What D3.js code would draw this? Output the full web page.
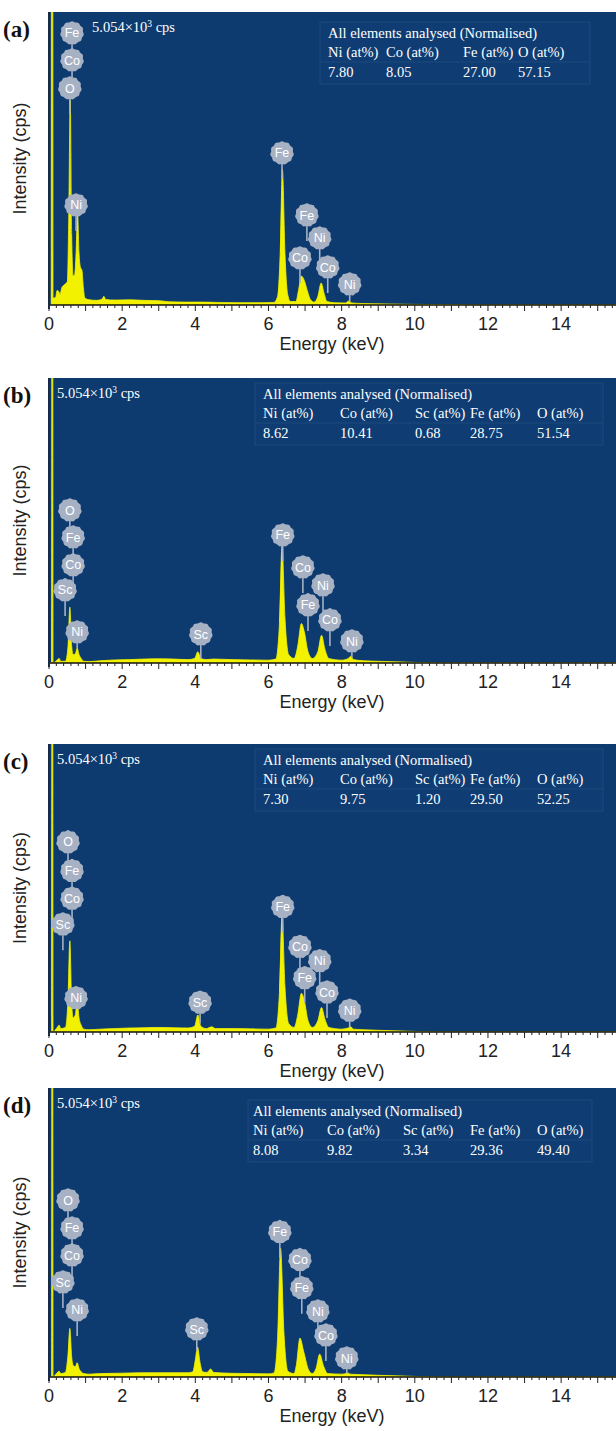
<!DOCTYPE html>
<html>
<head>
<meta charset="utf-8">
<script src="https://cdn.jsdelivr.net/npm/d3@7"></script>
<style>
  body { margin: 0; background: #fff; }
  svg { display: block; }
</style>
</head>
<body>
<svg id="chart" width="616" height="1431"></svg>
<script>
// ---------------- data ----------------
const energyTicks = [0, 2, 4, 6, 8, 10, 12, 14];
const fullScaleCps = 5054;
const panelNames = ["(a)", "(b)", "(c)", "(d)"];
const scaleText = "5.054×10";
const tableTitle = "All elements analysed (Normalised)";

const columnsA = ["Ni (at%)", "Co (at%)", "Fe (at%)", "O (at%)"];
const percentA = ["7.80", "8.05", "27.00", "57.15"];
const columnsB = ["Ni (at%)", "Co (at%)", "Sc (at%)", "Fe (at%)", "O (at%)"];
const percentB = ["8.62", "10.41", "0.68", "28.75", "51.54"];
const columnsC = ["Ni (at%)", "Co (at%)", "Sc (at%)", "Fe (at%)", "O (at%)"];
const percentC = ["7.30", "9.75", "1.20", "29.50", "52.25"];
const columnsD = ["Ni (at%)", "Co (at%)", "Sc (at%)", "Fe (at%)", "O (at%)"];
const percentD = ["8.08", "9.82", "3.34", "29.36", "49.40"];

// spectra: [energy keV, counts cps]
const spectrumA = [
  [0, 0], [0.06, 0], [0.07, 9000], [0.1, 9000], [0.11, 120], [0.18, 130], [0.22, 250], [0.27, 230],
  [0.3, 180], [0.35, 300], [0.42, 350], [0.5, 400], [0.54, 1500], [0.58, 3540], [0.62, 1200],
  [0.66, 500], [0.7, 520], [0.74, 900], [0.78, 1600], [0.82, 900], [0.86, 650], [0.9, 600],
  [0.94, 300], [0.98, 120], [1.1, 90], [1.3, 80], [1.45, 100], [1.5, 150], [1.55, 95], [1.8, 85],
  [2.2, 90], [2.6, 80], [3.0, 75], [3.3, 55], [3.7, 50], [4.2, 50], [4.6, 45], [5.2, 40],
  [5.8, 40], [6.15, 45], [6.25, 150], [6.32, 900], [6.38, 2340], [6.45, 900], [6.52, 200],
  [6.6, 60], [6.75, 60], [6.82, 250], [6.9, 500], [6.98, 420], [7.06, 250], [7.15, 90],
  [7.25, 50], [7.35, 150], [7.44, 380], [7.52, 200], [7.6, 60], [7.8, 40], [8.1, 35],
  [8.2, 70], [8.28, 35], [8.6, 25], [9.0, 20], [9.5, 15], [10, 10], [11, 6], [12, 0], [15.6, 0]
];
const spectrumB = [
  [0, 0], [0.07, 0], [0.08, 9000], [0.1, 9000], [0.11, 0], [0.2, 40], [0.28, 80], [0.32, 30],
  [0.45, 30], [0.52, 300], [0.57, 990], [0.62, 300], [0.66, 150], [0.72, 160], [0.77, 265],
  [0.82, 150], [0.88, 80], [0.95, 30], [1.1, 25], [1.4, 40], [1.8, 55], [2.2, 60], [2.6, 70],
  [3.0, 75], [3.4, 70], [3.8, 60], [3.98, 80], [4.07, 200], [4.15, 80], [4.3, 60], [4.5, 70],
  [5, 60], [5.5, 55], [6.0, 50], [6.2, 70], [6.3, 700], [6.37, 2080], [6.45, 800], [6.55, 150],
  [6.7, 80], [6.8, 300], [6.9, 700], [6.98, 550], [7.08, 200], [7.2, 80], [7.35, 200],
  [7.45, 490], [7.54, 250], [7.65, 80], [8.0, 50], [8.18, 80], [8.25, 120], [8.32, 60],
  [8.6, 40], [9.0, 30], [9.5, 20], [10, 10], [11, 0], [15.6, 0]
];
const spectrumC = [
  [0, 0], [0.07, 0], [0.08, 9000], [0.1, 9000], [0.11, 0], [0.2, 60], [0.28, 120], [0.32, 60],
  [0.45, 80], [0.52, 600], [0.57, 1600], [0.62, 500], [0.66, 250], [0.72, 300], [0.77, 560],
  [0.82, 250], [0.88, 120], [0.95, 50], [1.1, 40], [1.4, 50], [1.8, 60], [2.2, 70], [2.6, 75],
  [3.0, 80], [3.4, 75], [3.8, 70], [3.98, 100], [4.07, 300], [4.15, 100], [4.3, 60], [4.45, 90],
  [4.55, 60], [5, 60], [5.5, 55], [6.0, 50], [6.2, 70], [6.3, 700], [6.37, 2030], [6.45, 800],
  [6.55, 150], [6.7, 80], [6.8, 300], [6.9, 680], [6.98, 550], [7.08, 200], [7.2, 80],
  [7.35, 200], [7.45, 430], [7.54, 230], [7.65, 80], [8.0, 50], [8.18, 70], [8.25, 90],
  [8.32, 50], [8.6, 40], [9.0, 30], [9.5, 20], [10, 10], [11, 0], [15.6, 0]
];
const spectrumD = [
  [0, 0], [0.07, 0], [0.08, 9000], [0.1, 9000], [0.11, 0], [0.2, 60], [0.28, 100], [0.32, 60],
  [0.45, 80], [0.52, 400], [0.57, 850], [0.62, 350], [0.66, 200], [0.72, 180], [0.77, 250],
  [0.82, 150], [0.88, 90], [0.95, 60], [1.1, 50], [1.4, 60], [1.8, 65], [2.2, 70], [2.6, 75],
  [3.0, 75], [3.4, 75], [3.8, 75], [3.93, 90], [4.0, 300], [4.06, 525], [4.13, 250], [4.2, 90],
  [4.32, 80], [4.42, 140], [4.5, 80], [5, 65], [5.5, 60], [6.0, 55], [6.15, 70], [6.25, 700],
  [6.33, 2250], [6.42, 800], [6.53, 100], [6.7, 60], [6.76, 200], [6.86, 680], [6.96, 450],
  [7.1, 120], [7.2, 60], [7.3, 150], [7.4, 400], [7.5, 200], [7.62, 60], [8.0, 50], [8.12, 60],
  [8.17, 70], [8.24, 50], [8.6, 40], [9.0, 30], [9.5, 20], [10, 10], [11, 0], [15.6, 0]
];

// element markers: [symbol, energy keV, balloon height cps]
const markersA = [
  ["Fe", 0.63, 4692], ["Co", 0.63, 4226], ["O", 0.57, 3743], ["Ni", 0.74, 1725],
  ["Fe", 6.37, 2622], ["Fe", 7.05, 1552], ["Ni", 7.40, 1156], ["Co", 6.86, 811],
  ["Co", 7.62, 655], ["Ni", 8.22, 362]
];
const markersB = [
  ["O", 0.57, 2713], ["Fe", 0.66, 2234], ["Co", 0.66, 1738], ["Sc", 0.44, 1295], ["Ni", 0.77, 550],
  ["Fe", 6.39, 2270], ["Co", 6.94, 1702], ["Ni", 7.49, 1383], ["Fe", 7.08, 1029],
  ["Co", 7.68, 763], ["Sc", 4.15, 514], ["Ni", 8.28, 390]
];
const markersC = [
  ["O", 0.52, 3335], ["Fe", 0.63, 2831], ["Co", 0.63, 2345], ["Sc", 0.38, 1893], ["Ni", 0.74, 600],
  ["Fe", 6.39, 2200], ["Co", 6.86, 1500], ["Ni", 7.40, 1250], ["Fe", 6.99, 950],
  ["Co", 7.60, 700], ["Sc", 4.13, 520], ["Ni", 8.22, 380]
];
const markersD = [
  ["O", 0.52, 3095], ["Fe", 0.63, 2606], ["Co", 0.63, 2133], ["Sc", 0.38, 1661], ["Ni", 0.77, 1172],
  ["Fe", 6.31, 2541], ["Co", 6.86, 2051], ["Fe", 6.91, 1560], ["Ni", 7.35, 1154],
  ["Co", 7.57, 734], ["Sc", 4.04, 839], ["Ni", 8.14, 332]
];

// ---------------- layout ----------------
const W = 616;
const panels = [
  { name: panelNames[0], top: 12, bottom: 305, spectrum: spectrumA, markers: markersA,
    cols: columnsA, vals: percentA, scaleX: 92,
    table: { x: 320, y: 22, w: 270, colX: [328, 386, 463, 518] } },
  { name: panelNames[1], top: 378, bottom: 663, spectrum: spectrumB, markers: markersB,
    cols: columnsB, vals: percentB, scaleX: 57,
    table: { x: 255, y: 383, w: 348, colX: [263, 340, 415, 470, 537] } },
  { name: panelNames[2], top: 744, bottom: 1032, spectrum: spectrumC, markers: markersC,
    cols: columnsC, vals: percentC, scaleX: 57,
    table: { x: 255, y: 749, w: 348, colX: [263, 340, 415, 470, 537] } },
  { name: panelNames[3], top: 1088, bottom: 1377, spectrum: spectrumD, markers: markersD,
    cols: columnsD, vals: percentD, scaleX: 57,
    table: { x: 248, y: 1100, w: 344, colX: [253, 327, 403, 470, 537] } }
];

const bg = "#0d3a6f";
const yellow = "#f2f200";
const balloon = "#a7b1c4";

const svg = d3.select("#chart");
const x = d3.scaleLinear().domain([0, 15.5]).range([49, W]);

// softly scalloped balloon outline
const cloud = d3.lineRadial()
  .angle(a => a)
  .radius(a => 11.4 + 0.45 * Math.cos(11 * a))
  .curve(d3.curveCardinalClosed);
const cloudPath = cloud(d3.range(0, 2 * Math.PI, Math.PI / 22));

panels.forEach((p, i) => {
  const y = d3.scaleLinear().domain([0, fullScaleCps]).range([p.bottom, p.top]);
  const g = svg.append("g");

  g.append("rect")
    .attr("x", 49).attr("y", p.top)
    .attr("width", W - 49).attr("height", p.bottom - p.top)
    .attr("fill", bg);

  const clipId = "clip" + i;
  svg.append("clipPath").attr("id", clipId)
    .append("rect")
    .attr("x", 49).attr("y", p.top)
    .attr("width", W - 49).attr("height", p.bottom - p.top);

  // table of normalised percentages
  const t = p.table;
  const tb = g.append("g");
  tb.append("rect")
    .attr("x", t.x).attr("y", t.y).attr("width", t.w).attr("height", 62)
    .attr("fill", "#0f3d73").attr("stroke", "#1d4a7e").attr("stroke-width", 1);
  tb.append("line")
    .attr("x1", t.x).attr("x2", t.x + t.w)
    .attr("y1", t.y + 40).attr("y2", t.y + 40)
    .attr("stroke", "#1d4a7e");
  tb.append("text")
    .attr("x", t.colX[0]).attr("y", t.y + 16)
    .attr("fill", "#fff").attr("font-family", "Liberation Serif, Times New Roman, serif")
    .attr("font-size", 14.5).text(tableTitle);
  p.cols.forEach((c, k) => {
    tb.append("text")
      .attr("x", t.colX[k]).attr("y", t.y + 35)
      .attr("fill", "#fff").attr("font-family", "Liberation Serif, Times New Roman, serif")
      .attr("font-size", 14.5).text(c);
    tb.append("text")
      .attr("x", t.colX[k]).attr("y", t.y + 55)
      .attr("fill", "#fff").attr("font-family", "Liberation Serif, Times New Roman, serif")
      .attr("font-size", 14.5).text(p.vals[k]);
  });

  // spectrum
  const area = d3.area()
    .x(d => x(d[0]))
    .y0(y(0))
    .y1(d => y(d[1]))
    .curve(d3.curveMonotoneX);
  g.append("path")
    .datum(p.spectrum)
    .attr("clip-path", `url(#${clipId})`)
    .attr("d", area)
    .attr("fill", yellow)
    .attr("stroke", yellow)
    .attr("stroke-width", 0.8);

  // element markers
  const energies = p.spectrum.map(d => d[0]);
  const counts = p.spectrum.map(d => d[1]);
  const lookup = e => {
    const k = d3.bisectLeft(energies, e);
    if (k <= 0) return counts[0];
    const e0 = energies[k - 1], e1 = energies[k];
    return counts[k - 1] + (counts[k] - counts[k - 1]) * (e - e0) / (e1 - e0);
  };
  const mk = g.append("g");
  p.markers.forEach(m => {
    const cx = x(m[1]), cy = y(m[2]);
    const peakY = y(Math.min(lookup(m[1]), fullScaleCps));
    const endY = Math.min(peakY, cy + 26);
    mk.append("line")
      .attr("x1", cx).attr("x2", cx)
      .attr("y1", cy).attr("y2", endY)
      .attr("stroke", balloon).attr("stroke-width", 1.6);
  });
  p.markers.forEach(m => {
    const cx = x(m[1]), cy = y(m[2]);
    mk.append("path")
      .attr("transform", `translate(${cx},${cy})`)
      .attr("d", cloudPath)
      .attr("fill", balloon);
    mk.append("text")
      .attr("x", cx).attr("y", cy + 4.5)
      .attr("text-anchor", "middle")
      .attr("fill", "#fff")
      .attr("font-family", "Liberation Sans, Arial, sans-serif")
      .attr("font-size", 12.5)
      .text(m[0]);
  });

  // full-scale label
  const fs = g.append("text")
    .attr("x", p.scaleX).attr("y", p.top + 20)
    .attr("fill", "#fff")
    .attr("font-family", "Liberation Serif, Times New Roman, serif")
    .attr("font-size", 14.5);
  fs.append("tspan").text(scaleText);
  fs.append("tspan").attr("dy", -5).attr("font-size", 9.5).text("3");
  fs.append("tspan").attr("dy", 5).text(" cps");

  // axes
  const axisG = g.append("g").attr("transform", `translate(0,${p.bottom})`);
  axisG.append("line")
    .attr("x1", 49).attr("x2", W).attr("y1", 0).attr("y2", 0)
    .attr("stroke", "#111").attr("stroke-width", 1.5);
  const minor = d3.range(0, 15.6, 0.2);
  axisG.selectAll(".minor").data(minor).enter().append("line")
    .attr("x1", d => x(d)).attr("x2", d => x(d))
    .attr("y1", 0)
    .attr("y2", d => Math.abs(d - Math.round(d)) < 0.01 ? 6 : 3)
    .attr("stroke", "#222").attr("stroke-width", 1);
  axisG.selectAll(".lbl").data(energyTicks).enter().append("text")
    .attr("x", d => x(d)).attr("y", 25)
    .attr("text-anchor", "middle")
    .attr("fill", "#222")
    .attr("font-family", "Liberation Sans, Arial, sans-serif")
    .attr("font-size", 18)
    .text(d => d);
  axisG.append("text")
    .attr("x", 332).attr("y", 45)
    .attr("text-anchor", "middle")
    .attr("fill", "#222")
    .attr("font-family", "Liberation Sans, Arial, sans-serif")
    .attr("font-size", 18)
    .text("Energy (keV)");

  g.append("line")
    .attr("x1", 49).attr("x2", 49)
    .attr("y1", p.top).attr("y2", p.bottom + 4)
    .attr("stroke", "#1b2a44").attr("stroke-width", 2);

  g.append("text")
    .attr("transform", `translate(26,${(p.top + p.bottom) / 2}) rotate(-90)`)
    .attr("text-anchor", "middle")
    .attr("fill", "#222")
    .attr("font-family", "Liberation Sans, Arial, sans-serif")
    .attr("font-size", 18)
    .text("Intensity (cps)");

  g.append("text")
    .attr("x", 3).attr("y", p.top + 25)
    .attr("fill", "#111")
    .attr("font-family", "Liberation Serif, Times New Roman, serif")
    .attr("font-weight", "bold")
    .attr("font-size", 23)
    .text(p.name);
});
</script>
</body>
</html>
